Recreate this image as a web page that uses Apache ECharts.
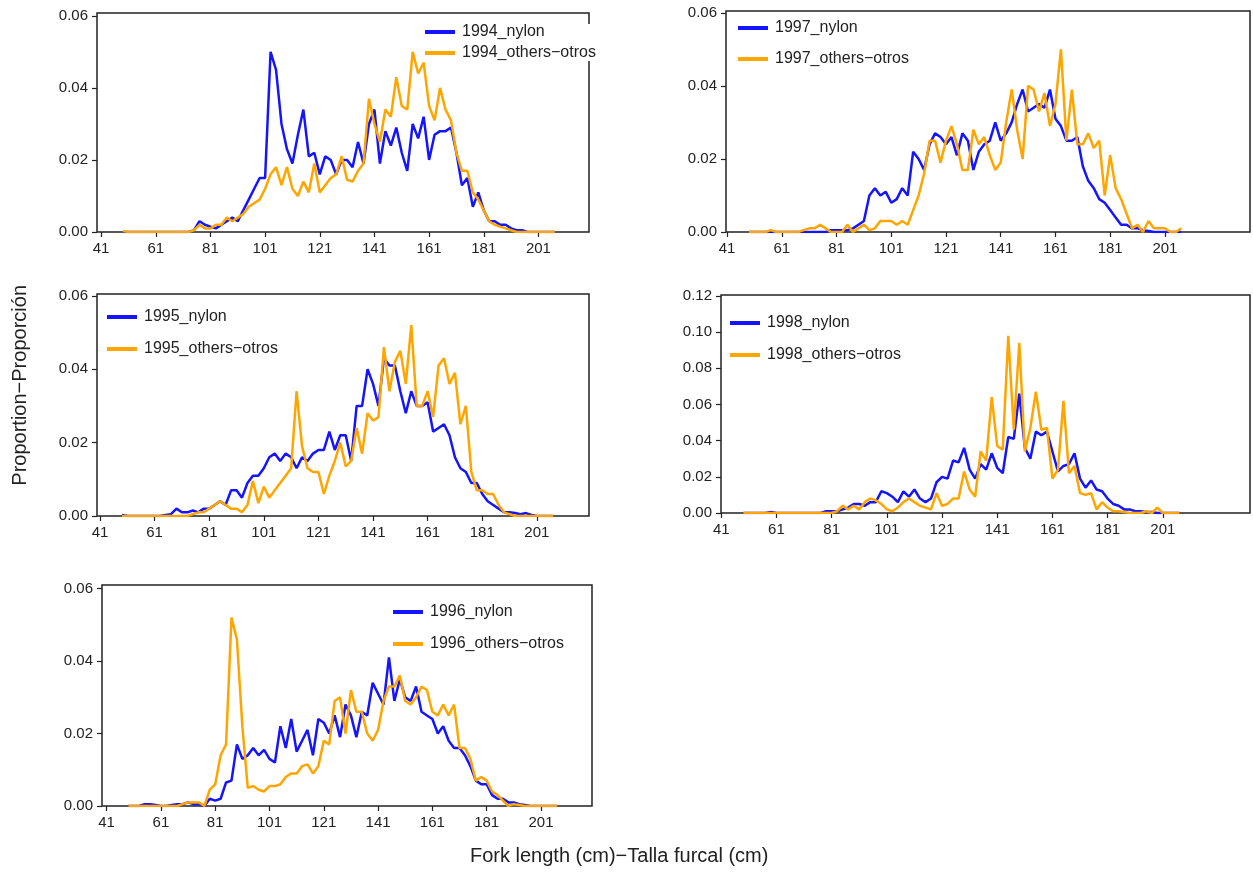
<!DOCTYPE html>
<html lang="en">
<head>
<meta charset="UTF-8">
<title>Fork length distributions</title>
<script src="https://cdn.jsdelivr.net/npm/echarts@6/dist/echarts.min.js"></script>
<style>html,body{margin:0;background:#fff}</style>
</head>
<body>
<div id="chart" style="width:1253px;height:879px;"></div>
<script>
// fork length (cm), 2 cm steps
const lengths = [49,51,53,55,57,59,61,63,65,67, 69,71,73,75,77,79,81,83,85,87,
  89,91,93,95,97,99,101,103,105,107, 109,111,113,115,117,119,121,123,125,127,
  129,131,133,135,137,139,141,143,145,147, 149,151,153,155,157,159,161,163,165,167,
  169,171,173,175,177,179,181,183,185,187, 189,191,193,195,197,199,201,203,205,207];
const xTicks = [41,61,81,101,121,141,161,181,201];

const nylon1994 = [0,0,0,0,0,0,0,0,0,0, 0,0,0,0.0005,0.003,0.002,0.0015,0.001,0.002,0.003,
  0.004,0.003,0.006,0.009,0.012,0.015,0.015,0.050,0.045,0.030, 0.023,0.019,0.027,0.034,0.021,0.022,0.016,0.021,0.020,0.016,
  0.020,0.020,0.018,0.025,0.019,0.030,0.034,0.019,0.028,0.024, 0.029,0.022,0.017,0.030,0.026,0.032,0.020,0.027,0.028,0.028,
  0.029,0.022,0.013,0.015,0.007,0.011,0.006,0.003,0.003,0.002, 0.002,0.001,0.0005,0.0005,0,0,0,0,0,0];
const others1994 = [0.0003,0,0,0,0,0,0,0,0,0, 0,0,0,0.0005,0.002,0.001,0.001,0.002,0.002,0.004,
  0.003,0.004,0.005,0.007,0.008,0.009,0.012,0.016,0.018,0.013, 0.018,0.012,0.010,0.014,0.011,0.019,0.011,0.013,0.015,0.016,
  0.021,0.0145,0.014,0.017,0.019,0.037,0.030,0.025,0.034,0.032, 0.043,0.035,0.034,0.050,0.044,0.047,0.035,0.031,0.040,0.034,
  0.031,0.022,0.017,0.017,0.011,0.009,0.006,0.003,0.002,0.0015, 0.001,0.0005,0,0,0,0,0,0,0,0];

const nylon1995 = [0.0003,0,0,0,0,0,0,0,0.0003,0.0005, 0.002,0.001,0.001,0.0015,0.001,0.002,0.002,0.003,0.004,0.003,
  0.007,0.007,0.005,0.009,0.011,0.011,0.013,0.016,0.017,0.015, 0.017,0.016,0.013,0.016,0.015,0.017,0.018,0.018,0.023,0.018,
  0.022,0.022,0.015,0.030,0.030,0.040,0.036,0.030,0.043,0.041, 0.041,0.034,0.028,0.034,0.030,0.030,0.031,0.023,0.024,0.025,
  0.022,0.016,0.013,0.012,0.009,0.009,0.006,0.004,0.003,0.002, 0.001,0.001,0.0008,0.0005,0.0008,0.0003,0,0,0,0];
const others1995 = [0,0,0,0,0,0,0,0,0,0, 0,0,0,0.0005,0.001,0.001,0.002,0.003,0.004,0.003,
  0.002,0.002,0.001,0.003,0.0095,0.0035,0.008,0.005,0.007,0.009, 0.011,0.013,0.034,0.019,0.013,0.012,0.012,0.006,0.011,0.015,
  0.020,0.0135,0.015,0.024,0.017,0.028,0.026,0.027,0.046,0.034, 0.042,0.045,0.036,0.052,0.030,0.030,0.034,0.027,0.041,0.043,
  0.036,0.039,0.025,0.030,0.012,0.007,0.007,0.006,0.006,0.003, 0.001,0.0005,0,0,0,0,0,0,0,0];

const nylon1996 = [0,0,0,0.0005,0.0005,0.0003,0,0,0.0003,0.0005, 0.0005,0.001,0.0005,0.0005,0,0.002,0.0015,0.002,0.0065,0.007,
  0.017,0.013,0.014,0.016,0.014,0.0155,0.013,0.012,0.022,0.016, 0.024,0.015,0.018,0.021,0.014,0.024,0.023,0.020,0.025,0.019,
  0.028,0.025,0.019,0.026,0.025,0.034,0.031,0.028,0.041,0.029, 0.035,0.030,0.029,0.033,0.026,0.025,0.024,0.020,0.022,0.018,
  0.016,0.016,0.014,0.011,0.007,0.006,0.006,0.003,0.002,0.002, 0.001,0.001,0.0005,0.0003,0,0,0,0,0,0];
const others1996 = [0,0,0,0,0,0,0,0,0,0, 0.0005,0.001,0.001,0.001,0,0.0045,0.006,0.014,0.017,0.052,
  0.046,0.022,0.005,0.0055,0.0045,0.004,0.0055,0.0055,0.006,0.008, 0.009,0.009,0.011,0.0115,0.009,0.011,0.018,0.017,0.029,0.030,
  0.020,0.032,0.026,0.026,0.020,0.018,0.021,0.029,0.033,0.033, 0.036,0.029,0.028,0.030,0.033,0.032,0.026,0.025,0.028,0.025,
  0.028,0.016,0.016,0.013,0.007,0.008,0.007,0.004,0.003,0.0015, 0,0.0005,0.0003,0,0,0,0,0,0,0];

const nylon1997 = [0,0,0,0,0,0,0,0,0,0, 0,0,0,0,0,0.0005,0.0005,0.0005,0.0005,0.001,
  0.002,0.003,0.010,0.012,0.010,0.011,0.008,0.009,0.012,0.010, 0.022,0.020,0.017,0.024,0.027,0.026,0.024,0.026,0.021,0.027,
  0.025,0.017,0.022,0.024,0.025,0.030,0.025,0.027,0.030,0.035, 0.039,0.033,0.034,0.035,0.034,0.039,0.031,0.029,0.025,0.025,
  0.026,0.018,0.014,0.012,0.009,0.008,0.006,0.004,0.002,0.002, 0.001,0.001,0.0005,0.0003,0,0,0,0,0,0];
const others1997 = [0,0,0,0,0.0005,0,0,0,0,0, 0.0005,0.001,0.001,0.002,0.001,0,0,0,0.002,0,
  0.001,0.002,0.0005,0.001,0.003,0.003,0.003,0.002,0.003,0.002, 0.006,0.010,0.016,0.025,0.025,0.019,0.025,0.029,0.024,0.017,
  0.017,0.028,0.024,0.026,0.021,0.017,0.019,0.030,0.039,0.028, 0.020,0.040,0.039,0.033,0.038,0.029,0.035,0.050,0.025,0.039,
  0.024,0.024,0.027,0.023,0.025,0.010,0.021,0.012,0.009,0.005, 0.001,0.002,0,0.003,0.001,0.001,0.001,0,0,0.001];

const nylon1998 = [0,0,0,0,0,0.0005,0,0,0,0, 0,0,0,0,0,0.001,0.001,0.001,0.002,0.003,
  0.005,0.005,0.004,0.006,0.006,0.012,0.011,0.009,0.006,0.012, 0.009,0.013,0.008,0.006,0.008,0.017,0.020,0.019,0.029,0.028,
  0.036,0.024,0.019,0.027,0.024,0.033,0.025,0.022,0.042,0.041, 0.066,0.036,0.030,0.045,0.043,0.045,0.034,0.023,0.026,0.027,
  0.033,0.019,0.014,0.018,0.013,0.012,0.008,0.005,0.004,0.002, 0.002,0.001,0.001,0.0005,0.0005,0,0,0,0,0];
const others1998 = [0,0,0,0,0,0,0,0,0,0, 0,0,0,0,0,0,0,0.001,0.004,0.002,
  0.004,0.002,0.006,0.008,0.007,0.005,0.002,0.001,0.003,0.006, 0.008,0.006,0.004,0.003,0.002,0.011,0.004,0.005,0.008,0.008,
  0.023,0.013,0.009,0.034,0.029,0.064,0.037,0.035,0.098,0.046, 0.094,0.034,0.047,0.067,0.046,0.047,0.019,0.024,0.062,0.022,
  0.026,0.011,0.010,0.011,0.002,0.006,0.003,0.001,0.001,0.0005, 0,0,0,0.001,0,0.003,0,0,0,0];

const yTicksSmall = [0, 0.02, 0.04, 0.06];
const yTicksLarge = [0, 0.02, 0.04, 0.06, 0.08, 0.10, 0.12];

// panel boxes in page pixels, axis ranges
const panels = [
  {year: '1994', nylon: nylon1994, others: others1994, box: [97, 13, 492, 219], x: [39.5, 219.5], yMax: 0.0608, yTicks: yTicksSmall, leg: [425, 24, 5]},
  {year: '1997', nylon: nylon1997, others: others1997, box: [726, 11, 524, 221], x: [40.6, 232.1], yMax: 0.0605, yTicks: yTicksSmall, leg: [738, 20, 15]},
  {year: '1995', nylon: nylon1995, others: others1995, box: [97, 294, 492, 222], x: [39.9, 220.1], yMax: 0.0605, yTicks: yTicksSmall, leg: [107, 309, 16]},
  {year: '1998', nylon: nylon1998, others: others1998, box: [721, 295, 529, 218], x: [40.9, 232.6], yMax: 0.1205, yTicks: yTicksLarge, leg: [730, 315, 16]},
  {year: '1996', nylon: nylon1996, others: others1996, box: [102, 585, 490, 221], x: [39.3, 219.8], yMax: 0.061, yTicks: yTicksSmall, leg: [393, 604, 16]}
];

const font = 'Liberation Sans, Arial, sans-serif';
let grid = [], xAxis = [], yAxis = [], series = [], legend = [];
panels.forEach((p, i) => {
  grid.push({left: p.box[0], top: p.box[1], width: p.box[2], height: p.box[3],
    show: true, borderColor: '#222', borderWidth: 1.5, backgroundColor: 'transparent'});
  xAxis.push({type: 'value', gridIndex: i, min: p.x[0], max: p.x[1],
    axisLine: {show: false}, splitLine: {show: false},
    axisTick: {show: true, length: 5, customValues: xTicks, lineStyle: {color: '#222', width: 1.2}},
    axisLabel: {customValues: xTicks, color: '#222', fontSize: 15, fontFamily: font, margin: 9}});
  yAxis.push({type: 'value', gridIndex: i, min: 0, max: p.yMax,
    axisLine: {show: false}, splitLine: {show: false},
    axisTick: {show: true, length: 5, customValues: p.yTicks, lineStyle: {color: '#222', width: 1.2}},
    axisLabel: {customValues: p.yTicks, color: '#222', fontSize: 15, fontFamily: font, margin: 9,
      formatter: v => v.toFixed(2)}});
  const nName = p.year + '_nylon', oName = p.year + '_others\u2212otros';
  series.push({name: nName, type: 'line', xAxisIndex: i, yAxisIndex: i, symbol: 'none', z: 2,
    lineStyle: {color: '#1414ff', width: 2.5}, itemStyle: {color: '#1414ff'},
    data: lengths.map((l, k) => [l, p.nylon[k]])});
  series.push({name: oName, type: 'line', xAxisIndex: i, yAxisIndex: i, symbol: 'none', z: 3,
    lineStyle: {color: '#ffa500', width: 2.5}, itemStyle: {color: '#ffa500'},
    data: lengths.map((l, k) => [l, p.others[k]])});
  legend.push({data: [nName, oName], orient: 'vertical', left: p.leg[0], top: p.leg[1],
    itemGap: p.leg[2], icon: 'rect', itemWidth: 30, itemHeight: 4, padding: 0,
    backgroundColor: '#fff', selectedMode: false,
    textStyle: {color: '#222', fontSize: 16, fontFamily: font, padding: [0, 0, 0, 2]}});
});

const chart = echarts.init(document.getElementById('chart'));
chart.setOption({
  animation: false,
  grid: grid, xAxis: xAxis, yAxis: yAxis, series: series, legend: legend,
  graphic: [
    {type: 'text', left: 10, top: 285, rotation: Math.PI / 2, originX: 0, originY: 0,
      style: {text: 'Proportion\u2212Proporci\u00f3n', fill: '#222', font: '20px ' + font}},
    {type: 'text', left: 470, top: 846,
      style: {text: 'Fork length (cm)\u2212Talla furcal (cm)', fill: '#222', font: '20px ' + font}}
  ]
});
</script>
</body>
</html>
